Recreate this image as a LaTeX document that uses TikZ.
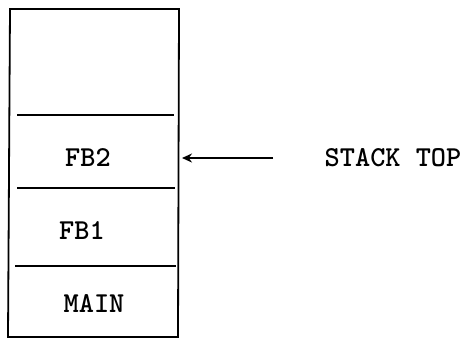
\documentclass[tikz,border=0pt]{standalone}
\usetikzlibrary{arrows.meta}
\begin{document}
\begin{tikzpicture}[x=1bp,y=-1bp,
  frame/.style={line width=1.8bp},
  divider/.style={line width=1.8bp},
  lbl/.style={font=\fontsize{29}{32}\selectfont\ttfamily\bfseries, inner sep=0pt, anchor=center},
  pointer/.style={line width=1.6bp, -{Stealth[length=10bp,width=9bp]}}]
\useasboundingbox (0,0) rectangle (464,339);
\draw[frame] (10,9) -- (179,9) -- (178,337) -- (8,337) -- cycle;
\draw[divider] (17,115) -- (174,115);
\draw[divider] (17,188) -- (175,188);
\draw[divider] (15,266) -- (176,266);
\node[lbl] (fb2) at (88,158) {FB2};
\node[lbl] (fb1) at (82,231) {FB1};
\node[lbl] (main) at (94,303) {MAIN};
\node[lbl] (top) at (393,158) {STACK TOP};
\coordinate (tail) at (273,158);
\coordinate (head) at (182,158);
\draw[pointer] (tail) -- (head);
\end{tikzpicture}
\end{document}
